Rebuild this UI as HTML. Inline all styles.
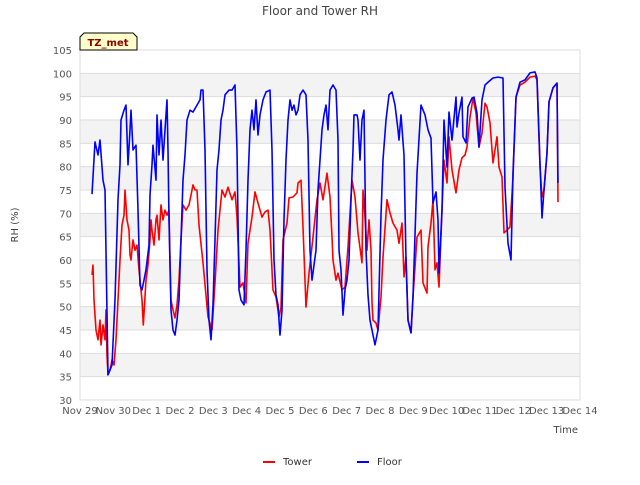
<!DOCTYPE html>
<html><head><meta charset="utf-8"><style>
body{margin:0;background:#fff;}
svg text{font-family:"DejaVu Sans","Liberation Sans",sans-serif;}
</style></head><body>
<svg id="chart" width="640" height="480" xmlns="http://www.w3.org/2000/svg">
<rect width="640" height="480" fill="#fff"/>
<text x="320" y="15" text-anchor="middle" font-size="12" fill="#444">Floor and Tower RH</text>
<g id="bands"></g><g id="grid"></g>
<rect x="80" y="50" width="500" height="350" fill="none" stroke="#ddd"/>
<g id="yticks"></g><g id="xticks"></g><g id="series"></g>
<text x="18" y="225" transform="rotate(-90 18 225)" text-anchor="middle" font-size="10" fill="#444">RH (%)</text>
<text x="578" y="433" text-anchor="end" font-size="10" fill="#444">Time</text>
<g>
<path d="M84,33 L133,33 L137,37 L137,50 L80,50 L80,37 Z" fill="#ffffcc" stroke="#000" stroke-width="1"/>
<text x="108" y="46" text-anchor="middle" font-size="10" font-weight="bold" fill="#8b0000">TZ_met</text></g>
<g>
<g><line x1="263" y1="462" x2="275" y2="462" stroke="#f00" stroke-width="2"/><text x="283" y="465" font-size="10" fill="#333">Tower</text></g>
<g><line x1="357" y1="462" x2="369" y2="462" stroke="#00f" stroke-width="2"/><text x="377" y="465" font-size="10" fill="#333">Floor</text></g>
</g>
</svg>
<script>
const yTicks=[30,35,40,45,50,55,60,65,70,75,80,85,90,95,100,105];
const xTickLabels=["Nov 29","Nov 30","Dec 1","Dec 2","Dec 3","Dec 4","Dec 5","Dec 6","Dec 7","Dec 8","Dec 9","Dec 10","Dec 11","Dec 12","Dec 13","Dec 14"];
const floorT=[0.36,0.45,0.54,0.60,0.69,0.75,0.84,0.96,1.05,1.14,1.20,1.23,1.32,1.38,1.44,1.50,1.53,1.59,1.68,1.74,1.80,1.86,1.92,1.98,2.07,2.10,2.16,2.19,2.28,2.31,2.37,2.43,2.49,2.55,2.61,2.64,2.67,2.73,2.79,2.85,2.91,2.97,3.03,3.09,3.15,3.21,3.30,3.39,3.51,3.60,3.63,3.69,3.75,3.81,3.87,3.93,3.99,4.05,4.11,4.17,4.23,4.29,4.35,4.47,4.56,4.65,4.71,4.77,4.83,4.92,4.98,5.04,5.10,5.16,5.22,5.28,5.34,5.40,5.49,5.58,5.70,5.76,5.82,5.88,5.94,6.00,6.06,6.12,6.18,6.24,6.30,6.36,6.42,6.48,6.54,6.60,6.69,6.78,6.84,6.90,6.96,7.02,7.08,7.14,7.20,7.26,7.32,7.38,7.44,7.50,7.59,7.68,7.74,7.77,7.83,7.89,7.95,8.01,8.07,8.13,8.19,8.22,8.31,8.34,8.40,8.46,8.52,8.58,8.64,8.70,8.85,8.94,9.03,9.09,9.18,9.27,9.36,9.45,9.54,9.57,9.63,9.72,9.78,9.84,9.93,9.99,10.11,10.23,10.35,10.44,10.53,10.59,10.68,10.74,10.77,10.86,10.92,11.01,11.07,11.16,11.28,11.31,11.37,11.46,11.49,11.58,11.64,11.76,11.82,11.91,11.97,12.06,12.15,12.24,12.39,12.54,12.69,12.75,12.84,12.93,12.99,13.08,13.20,13.35,13.50,13.65,13.71,13.80,13.86,13.92,14.01,14.07,14.19,14.31,14.34];
const floorV=[74.1,85.3,82.5,85.7,77.1,75,35.4,37.5,51.4,72.9,80.4,90,92.1,93.2,80.4,87.9,92.1,83.6,84.6,70.7,54.6,53.6,55.7,57.9,63.2,73.9,80.4,84.6,77.1,91.1,82.5,90,81.4,87.9,94.3,83.6,68.6,49.3,45,43.9,47.1,51.4,64.3,77.1,82.5,90,92.1,91.7,93.2,94.3,96.4,96.4,83.6,57.9,47.1,42.9,50.4,64.3,79.3,83.6,90,92.1,95.4,96.4,96.4,97.5,83.6,53.6,51.4,50.4,62.1,77.1,87.9,92.1,87.9,94.3,86.8,91.1,94.3,96,96.4,83.6,60,52.5,50.4,43.9,49.3,68.6,81.4,90,94.3,92.1,93.2,91.1,92.1,95.4,96.4,95.4,85.7,62.1,55.7,58.9,62.1,75,81.4,87.9,91.1,93.2,87.9,96.4,97.5,96.4,85.7,62.1,57.9,48.2,53.6,55.7,60,72.9,83.6,91.1,91.1,90,81.4,90,92.1,62.1,52.5,47.1,41.8,45,69.6,81.4,90,95.4,96,93.2,87.9,85.7,91.1,82.5,60,47.1,44.4,52.1,78.6,93.2,91.1,87.9,86.1,72.2,74.6,68.6,57.2,70.7,90,79.9,91.7,85.7,94.9,88.5,91.5,94.9,86.4,85.1,92.8,94.7,94.9,91.5,84.2,94.3,97.5,98.1,99,99.2,99,75.6,63.6,60,78.6,94.9,98.1,98.6,100.1,100.3,99,80.8,69,75,82.9,93.9,96.9,97.9,76.5];
const towerT=[0.36,0.39,0.42,0.48,0.54,0.60,0.63,0.69,0.75,0.78,0.81,0.84,0.90,0.96,1.02,1.08,1.14,1.20,1.26,1.32,1.35,1.41,1.47,1.50,1.53,1.59,1.65,1.71,1.77,1.83,1.86,1.90,1.98,2.04,2.10,2.13,2.16,2.22,2.28,2.31,2.37,2.43,2.49,2.55,2.61,2.67,2.70,2.73,2.79,2.85,2.91,2.97,3.03,3.09,3.18,3.27,3.33,3.39,3.45,3.51,3.57,3.69,3.84,3.96,4.05,4.14,4.26,4.35,4.44,4.56,4.65,4.71,4.80,4.89,4.98,5.04,5.16,5.25,5.34,5.46,5.55,5.64,5.70,5.79,5.88,5.97,6.03,6.09,6.21,6.27,6.39,6.51,6.54,6.63,6.69,6.78,6.87,6.99,7.11,7.20,7.29,7.41,7.50,7.56,7.59,7.68,7.74,7.86,7.95,8.04,8.16,8.25,8.34,8.46,8.49,8.55,8.61,8.67,8.73,8.76,8.79,8.88,8.94,9.03,9.09,9.21,9.30,9.39,9.51,9.57,9.66,9.72,9.78,9.84,9.93,9.99,10.11,10.23,10.29,10.41,10.44,10.53,10.59,10.65,10.71,10.77,10.86,10.92,11.01,11.07,11.16,11.28,11.37,11.46,11.55,11.61,11.70,11.79,11.88,11.97,12.06,12.15,12.21,12.30,12.39,12.51,12.57,12.66,12.72,12.81,12.90,12.99,13.08,13.20,13.35,13.50,13.65,13.71,13.80,13.86,13.92,14.01,14.07,14.19,14.31,14.34];
const towerV=[56.8,58.9,51.4,45,42.9,47.1,41.8,46.1,42.9,49.3,39.6,35.4,36.4,38.6,37.5,42.9,51.4,60,67.5,69.6,75,68.6,66.4,61.1,60,64.3,62.1,63.2,57.9,53.6,51.4,46.1,55.7,58.9,64.3,68.6,66.4,63.2,68.6,69.6,64.3,71.8,68.6,70.7,69.6,70.7,60,51.4,49.3,47.6,50.4,55.7,64.3,71.8,70.7,71.8,73.9,76.1,75,75,67.5,59.4,47.8,45,55.1,66.4,75,73.5,75.6,72.9,74.6,69.2,54.2,55.1,50.8,63.6,69.2,74.6,72.2,69.2,70.3,70.7,66.4,53.6,52.1,47.8,49.9,64.3,67.9,73.3,73.5,74.4,76.5,77.1,67.1,49.9,57.2,64.9,72.9,76.5,72.9,78.6,73.5,64.9,60,55.7,57.2,53.6,54.2,62.8,77.1,73.5,65.8,59.4,75,69.2,62.1,68.6,62.1,50.8,47.1,46.5,45,52.1,60.6,72.9,70.1,67.9,66.4,63.6,67.9,56.4,60.6,47.1,44.4,52.1,64.9,66.4,55.1,52.9,62.8,67.9,72.9,57.9,59.4,54.2,70.7,81.4,76.5,86.4,79.3,74.4,79.3,81.9,82.5,84.2,90.6,94.7,91.5,84.2,87.2,93.6,92.8,89.4,80.8,86.4,79.9,77.8,65.8,66.4,67.1,77.8,94.9,97.5,98.1,99.2,99.4,98.6,79.9,73.5,75,82.9,93.9,96.9,97.9,72.4];
const NS='http://www.w3.org/2000/svg';
const X0=80,X1=580,Y0=400,Y1=50;
const xs=t=>X0+(X1-X0)*t/15;
const ys=v=>Y0-(Y0-Y1)*(v-30)/75;
function mk(tag,attrs,parent){const e=document.createElementNS(NS,tag);for(const k in attrs)e.setAttribute(k,attrs[k]);parent.appendChild(e);return e;}
const bands=document.getElementById('bands'),grid=document.getElementById('grid'),yt=document.getElementById('yticks'),xt=document.getElementById('xticks'),ser=document.getElementById('series');
yTicks.forEach((v,i)=>{
  if(v%10===5&&v<100){const b=mk('rect',{x:X0,y:ys(v+5),width:X1-X0,height:ys(v)-ys(v+5),fill:'#f3f3f3'},bands);
    
    }
  const g=mk('line',{x1:X0,x2:X1,y1:ys(v),y2:ys(v),stroke:'#ddd'},grid);
  
  
  const t=mk('text',{x:X0-8,y:ys(v)+4,'text-anchor':'end','font-size':10,fill:'#555'},yt);
  
  
  t.textContent=v;
});
xTickLabels.forEach((l,i)=>{
  const t=mk('text',{x:xs(i),y:414,'text-anchor':'middle','font-size':10,fill:'#555'},xt);
  
  
  t.textContent=l;
});
function line(T,V,color,name){
  const d=T.map((t,i)=>(i?'L':'M')+xs(t).toFixed(1)+','+ys(V[i]).toFixed(1)).join(' ');
  const p=mk('path',{d:d,fill:'none',stroke:color,'stroke-width':1.6,'stroke-linejoin':'round'},ser);
  
  
}
line(towerT,towerV,'#f00','tower-line');
line(floorT,floorV,'#00f','floor-line');
</script>
</body></html>
